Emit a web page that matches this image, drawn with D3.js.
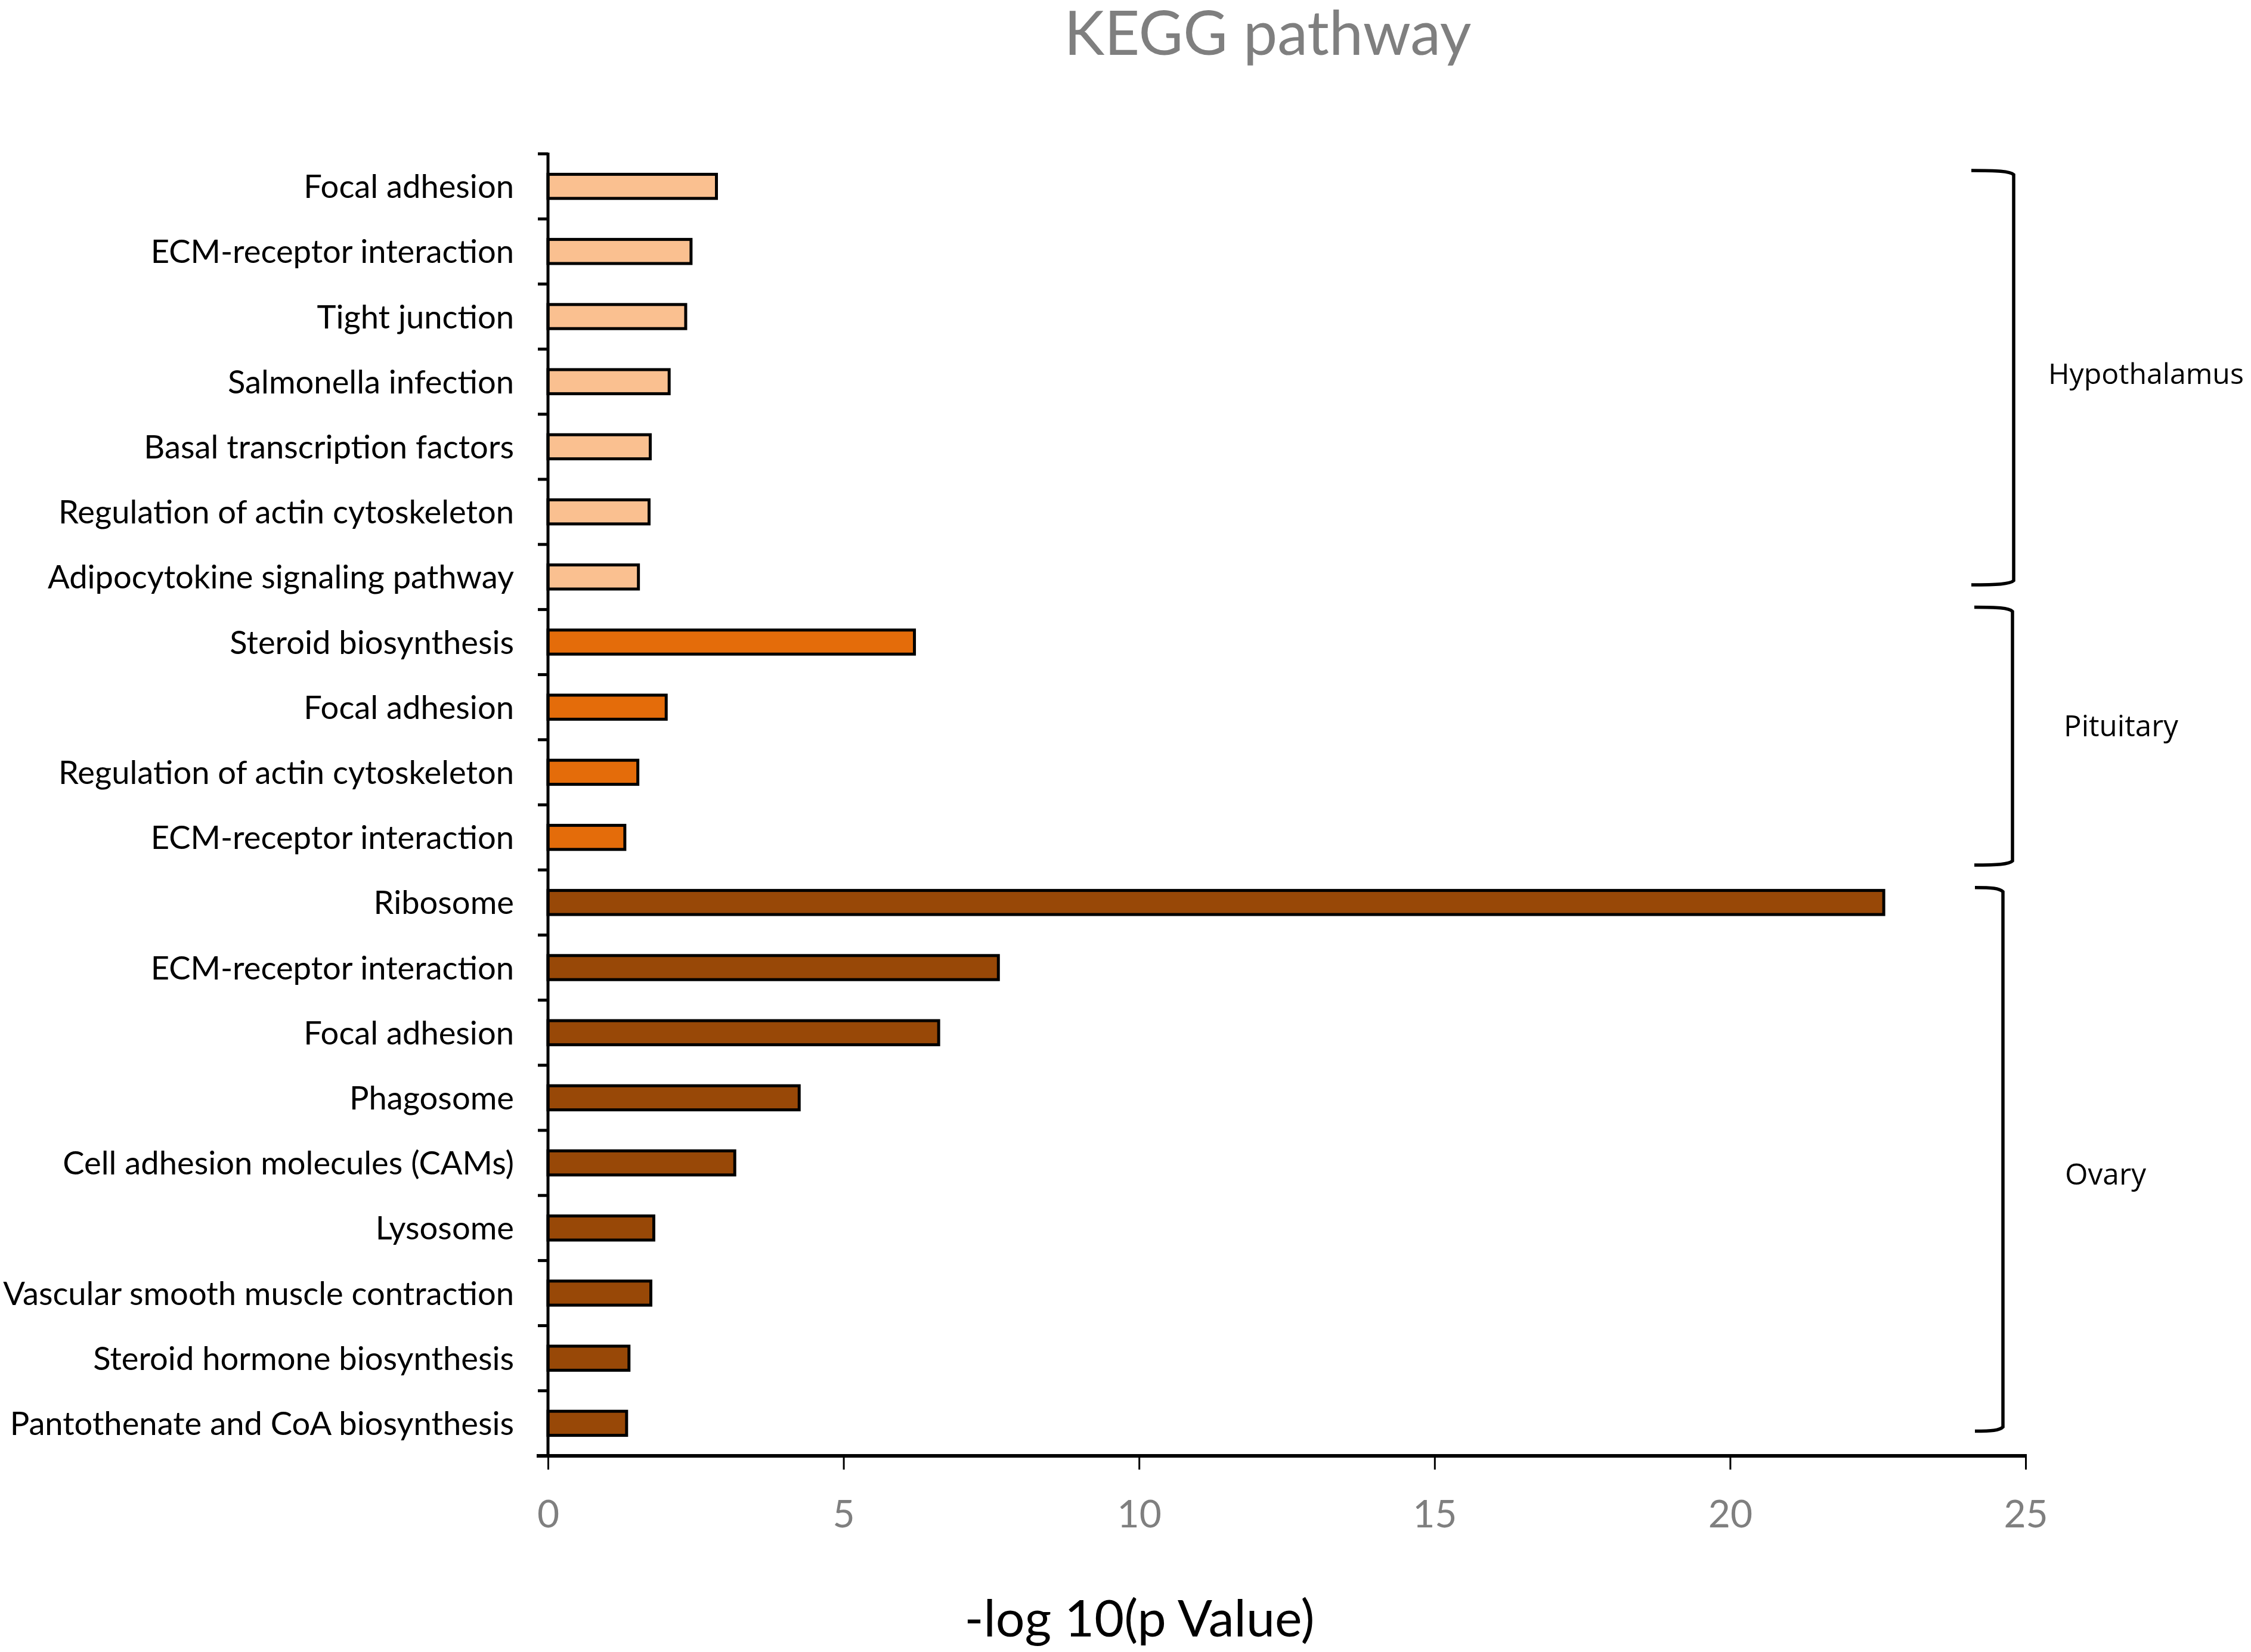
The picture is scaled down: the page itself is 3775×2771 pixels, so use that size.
<!DOCTYPE html>
<html><head><meta charset="utf-8">
<script src="https://cdn.jsdelivr.net/npm/d3@7/dist/d3.min.js"></script>
<style>html,body{margin:0;padding:0;background:#fff;}</style>
</head><body>
<svg id="chart" width="3775" height="2771" xmlns="http://www.w3.org/2000/svg"></svg>
<script>
// ---------- data ----------
const categories = [
  "Focal adhesion","ECM-receptor interaction","Tight junction","Salmonella infection",
  "Basal transcription factors","Regulation of actin cytoskeleton","Adipocytokine signaling pathway",
  "Steroid biosynthesis","Focal adhesion","Regulation of actin cytoskeleton","ECM-receptor interaction",
  "Ribosome","ECM-receptor interaction","Focal adhesion","Phagosome","Cell adhesion molecules (CAMs)",
  "Lysosome","Vascular smooth muscle contraction","Steroid hormone biosynthesis","Pantothenate and CoA biosynthesis"
];
const tissues = [
  "Hypothalamus","Hypothalamus","Hypothalamus","Hypothalamus","Hypothalamus","Hypothalamus","Hypothalamus",
  "Pituitary","Pituitary","Pituitary","Pituitary",
  "Ovary","Ovary","Ovary","Ovary","Ovary","Ovary","Ovary","Ovary","Ovary"
];
const values = [
  2.85, 2.42, 2.33, 2.05, 1.73, 1.71, 1.53,
  6.20, 2.00, 1.52, 1.30,
  22.6, 7.62, 6.61, 4.25, 3.16, 1.79, 1.74, 1.37, 1.33
];
const groupNames = ["Hypothalamus","Pituitary","Ovary"];
const groupColors = ["#FAC090","#E46C0A","#984807"];
const xTicks = [0, 5, 10, 15, 20, 25];
const titleText = "KEGG pathway";
const xTitleText = "-log 10(p Value)";

// ---------- layout ----------
const W = 3775, H = 2771;
const axisX = 919, axisTop = 258, axisBottom = 2442, xRight = 3397;
const catFont = "Lato, 'Noto Sans', sans-serif";
const grpFont = "'Open Sans', 'Noto Sans', sans-serif";

const svg = d3.select("#chart");
svg.append("rect").attr("width", W).attr("height", H).attr("fill", "#fff");

const x = d3.scaleLinear().domain([0, 25]).range([axisX, xRight]);
const idx = d3.range(categories.length);
const y = d3.scaleBand().domain(idx).range([axisTop, axisBottom]).paddingInner(0.63).paddingOuter(0.315);
const step = y.step();
const boundary = i => (i < categories.length ? y(i) + y.bandwidth() / 2 - step / 2 : axisBottom);
const color = d3.scaleOrdinal().domain(groupNames).range(groupColors);

// bars
svg.append("g").selectAll("rect").data(idx).join("rect")
  .attr("x", x(0))
  .attr("y", i => y(i))
  .attr("width", i => x(values[i]) - x(0))
  .attr("height", y.bandwidth())
  .attr("fill", i => color(tissues[i]))
  .attr("stroke", "#000").attr("stroke-width", 5);

// y axis (labels)
const yAxis = d3.axisLeft(y).tickSize(0).tickPadding(57).tickFormat(i => categories[i]);
const gy = svg.append("g").attr("transform", `translate(${axisX},0)`).call(yAxis);
gy.select(".domain").remove();
gy.selectAll("text").attr("font-family", catFont).attr("fill", "#000").attr("font-size", 50);
{
  let maxW = 0;
  gy.selectAll("text").each(function(){ maxW = Math.max(maxW, this.getComputedTextLength()); });
  const fs = 50 * 857 / maxW;
  gy.selectAll("text").attr("font-size", fs).attr("dy", "0.36em");
}
// y axis line and boundary ticks
svg.append("g").selectAll("line").data(d3.range(categories.length)).join("line")
  .attr("x1", axisX - 17).attr("x2", axisX)
  .attr("y1", i => boundary(i)).attr("y2", i => boundary(i))
  .attr("stroke", "#000").attr("stroke-width", 5);
svg.append("line").attr("x1", axisX).attr("x2", axisX)
  .attr("y1", axisTop - 2).attr("y2", axisBottom)
  .attr("stroke", "#000").attr("stroke-width", 5);

// x axis
const xAxis = d3.axisBottom(x).tickValues(xTicks).tickSize(23).tickPadding(0).tickFormat(d3.format("d"));
const gx = svg.append("g").attr("transform", `translate(0,${axisBottom})`).call(xAxis);
gx.select(".domain").remove();
gx.selectAll(".tick line").attr("stroke", "#000").attr("stroke-width", 3);
gx.selectAll(".tick text").attr("font-family", catFont).attr("font-size", 64)
  .attr("fill", "#7F7F7F").attr("y", 120).attr("dy", 0);
svg.append("line").attr("x1", axisX - 19).attr("x2", xRight + 2)
  .attr("y1", axisBottom).attr("y2", axisBottom)
  .attr("stroke", "#000").attr("stroke-width", 6);

// titles
function fitText(sel, base, target) {
  sel.attr("font-size", base);
  const w = sel.node().getComputedTextLength();
  sel.attr("font-size", base * target / w);
}
const t1 = svg.append("text").attr("x", 2126).attr("y", 92).attr("text-anchor", "middle")
  .attr("font-family", catFont).attr("fill", "#7F7F7F").text(titleText);
fitText(t1, 100, 683);
const t2 = svg.append("text").attr("x", 1911).attr("y", 2745).attr("text-anchor", "middle")
  .attr("font-family", catFont).attr("fill", "#000").text(xTitleText);
fitText(t2, 80, 587);

// group brackets
const bracketLayout = [
  {first: 0, last: 6, topOff: 0.256, botOff: -0.38, xl: 3306, xv: 3377, lx: 3435, ly: 644, w: 328},
  {first: 7, last: 10, topOff: -0.035, botOff: -0.075, xl: 3311, xv: 3375, lx: 3461, ly: 1235, w: 192},
  {first: 11, last: 19, topOff: 0.27, botOff: -0.38, xl: 3312, xv: 3359, lx: 3463, ly: 1987, w: 136}
];
const bg = svg.append("g");
groupNames.forEach((g, k) => {
  const L = bracketLayout[k];
  const top = boundary(L.first) + L.topOff * step;
  const bot = boundary(L.last + 1) + L.botOff * step;
  const p = d3.path();
  p.moveTo(L.xl, top);
  p.bezierCurveTo(L.xl + (L.xv - L.xl) * 0.6, top, L.xv - 6, top + 1, L.xv, top + 7);
  p.lineTo(L.xv, bot - 7);
  p.bezierCurveTo(L.xv - 6, bot - 1, L.xl + (L.xv - L.xl) * 0.6, bot, L.xl, bot);
  bg.append("path").attr("d", p.toString()).attr("fill", "none")
    .attr("stroke", "#000").attr("stroke-width", 5.5);
  const t = bg.append("text").attr("x", L.lx).attr("y", L.ly)
    .attr("font-family", grpFont).attr("fill", "#000").text(g);
  fitText(t, 50, L.w);
});
</script>
</body></html>
